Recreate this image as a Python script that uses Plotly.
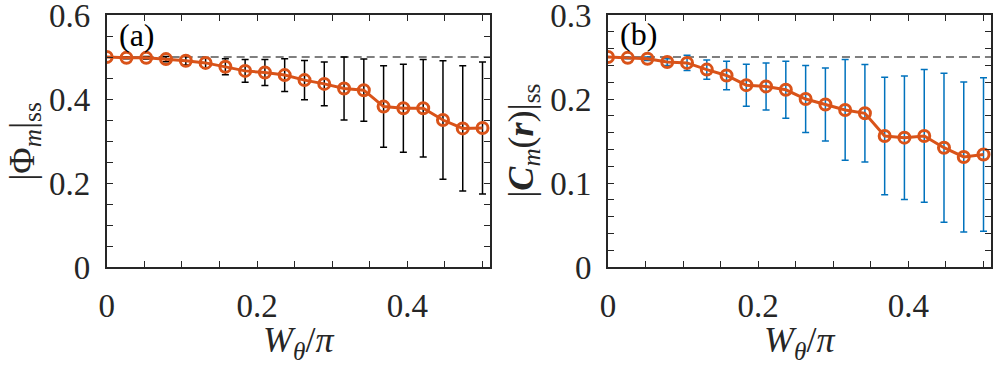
# Steady-state order parameter and correlation vs disorder width W_theta/pi
import plotly.graph_objects as go

# data
w_theta = [0, 0.0263, 0.0526, 0.0789, 0.1053, 0.1316, 0.1579, 0.1842, 0.2105, 0.2368,
           0.2632, 0.2895, 0.3158, 0.3421, 0.3684, 0.3947, 0.4211, 0.4474, 0.4737, 0.5]

phi_m = [0.500, 0.498, 0.498, 0.495, 0.491, 0.486, 0.477, 0.467, 0.463, 0.457,
         0.445, 0.436, 0.425, 0.421, 0.382, 0.378, 0.378, 0.350, 0.330, 0.331]
phi_err = [0.000, 0.002, 0.003, 0.006, 0.010, 0.013, 0.019, 0.027, 0.031, 0.039,
           0.047, 0.052, 0.075, 0.074, 0.097, 0.105, 0.116, 0.141, 0.149, 0.157]

c_m = [0.250, 0.249, 0.248, 0.244, 0.243, 0.235, 0.228, 0.2165, 0.215, 0.211,
       0.200, 0.1935, 0.187, 0.183, 0.156, 0.154, 0.156, 0.142, 0.131, 0.134]
c_err = [0.000, 0.001, 0.002, 0.004, 0.009, 0.0115, 0.017, 0.025, 0.028, 0.034,
         0.040, 0.0435, 0.060, 0.058, 0.070, 0.0735, 0.079, 0.0887, 0.0894, 0.0914]

phi_ref = 0.5
c_ref = 0.25

x_ticks = [0, 0.2, 0.4]
phi_ticks = [0, 0.2, 0.4, 0.6]
c_ticks = [0, 0.1, 0.2, 0.3]

orange = "#D95319"
blue = "#0072BD"
axcol = "#262626"
font = "Liberation Serif"

fig = go.Figure()

fig.add_trace(go.Scatter(x=w_theta, y=phi_m, mode="lines+markers",
                         line=dict(color=orange, width=3),
                         marker=dict(symbol="circle-open", size=11, color=orange,
                                     line=dict(width=3, color=orange)),
                         error_y=dict(type="data", array=phi_err, color="black",
                                      thickness=1.5, width=3.5),
                         xaxis="x", yaxis="y", showlegend=False))

fig.add_trace(go.Scatter(x=w_theta, y=c_m, mode="lines+markers",
                         line=dict(color=orange, width=3),
                         marker=dict(symbol="circle-open", size=11, color=orange,
                                     line=dict(width=3, color=orange)),
                         error_y=dict(type="data", array=c_err, color=blue,
                                      thickness=1.5, width=3.5),
                         xaxis="x2", yaxis="y2", showlegend=False))

# dashed reference lines
fig.add_shape(type="line", xref="x domain", yref="y", x0=0, x1=1, y0=phi_ref, y1=phi_ref,
              line=dict(color="#7F7F7F", width=2, dash="8px,5px"), layer="below")
fig.add_shape(type="line", xref="x2 domain", yref="y2", x0=0, x1=1, y0=c_ref, y1=c_ref,
              line=dict(color="#7F7F7F", width=2, dash="8px,5px"), layer="below")

common = dict(showline=True, linecolor=axcol, linewidth=1.8, mirror="ticks",
              ticks="inside", ticklen=6, tickwidth=1.3, tickcolor=axcol,
              showgrid=False, zeroline=False, ticklabelstandoff=8, automargin=False,
              ticklabeloverflow="allow",
              tickfont=dict(family=font, size=33, color="#262626"))


def minor(step):
    return dict(dtick=step, tick0=0, ticks="inside", ticklen=6, tickcolor=axcol, tickwidth=1.3)


fig.update_layout(
    width=996, height=369,
    margin=dict(l=0, r=0, t=0, b=0, autoexpand=False),
    plot_bgcolor="white", paper_bgcolor="white",
    xaxis=dict(domain=[0.1071, 0.4920], range=[0, 0.51], tickvals=x_ticks,
               minor=minor(0.05), anchor="y", **common),
    yaxis=dict(domain=[0.2764, 0.9593], range=[0, 0.6], tickvals=phi_ticks,
               minor=minor(0.05), anchor="x", **common),
    xaxis2=dict(domain=[0.6104, 0.9950], range=[0, 0.51], tickvals=x_ticks,
                minor=minor(0.05), anchor="y2", **common),
    yaxis2=dict(domain=[0.2764, 0.9593], range=[0, 0.3], tickvals=c_ticks,
                minor=minor(0.02), anchor="x2", **common),
)

tfont = dict(family=font, size=36, color="#262626")
xt = "<i>W</i><sub><i>θ</i></sub>/<i>π</i>"
ann = [
    dict(text=xt, x=(0.1071 + 0.4920) / 2, y=0.072, xref="paper", yref="paper",
         showarrow=False, font=tfont, xanchor="center", yanchor="middle"),
    dict(text=xt, x=(0.6104 + 0.9950) / 2, y=0.072, xref="paper", yref="paper",
         showarrow=False, font=tfont, xanchor="center", yanchor="middle"),
    dict(text="|Φ<sub><i>m</i></sub>|<sub>ss</sub>", x=0.025, y=0.618, xref="paper",
         yref="paper", showarrow=False, font=tfont, textangle=-90,
         xanchor="center", yanchor="middle"),
    dict(text="|<b><i>C</i></b><sub><i>m</i></sub>(<b><i>r</i></b>)|<sub>ss</sub>",
         x=0.526, y=0.618, xref="paper", yref="paper", showarrow=False, font=tfont,
         textangle=-90, xanchor="center", yanchor="middle"),
    dict(text="(a)", x=117 / 996, y=1 - 35 / 369, xref="paper", yref="paper",
         showarrow=False, font=dict(family=font, size=32, color="black"),
         xanchor="left", yanchor="middle"),
    dict(text="(b)", x=618 / 996, y=1 - 34 / 369, xref="paper", yref="paper",
         showarrow=False, font=dict(family=font, size=32, color="black"),
         xanchor="left", yanchor="middle"),
]
fig.update_layout(annotations=ann)

# drop the default page margin so the figure sits at the window's corner
fig.write_html("out.html", config={"displayModeBar": False},
               post_script="document.body.style.margin='0';")
